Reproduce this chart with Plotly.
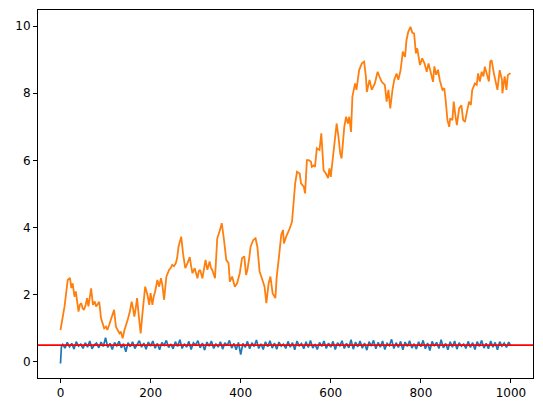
import plotly.graph_objects as go

# Orange series (random-walk-like)
orange_x = [0, 2, 5, 9, 13, 16, 21, 24, 27, 31, 34, 37, 40, 43, 46, 49, 52, 56, 59, 62, 65, 68, 72, 76, 79, 83, 86, 90, 94, 97,
            101, 104, 108, 112, 116, 119, 123, 127, 131, 134, 138, 142, 146, 149, 154, 158, 161, 164, 167, 170, 174, 178, 182, 185, 188, 193, 197,
            200, 204, 207, 210, 215, 219, 223, 226, 230, 235, 241, 245, 248, 252, 256, 259, 262, 268, 272, 277, 282, 287, 290, 293, 298,
            301, 304, 307, 310, 315, 319, 322, 326, 331, 334, 337, 343, 348, 353, 358, 363, 368, 373, 376, 381, 384, 387, 392, 398,
            403, 408, 412, 415, 419, 422, 428, 433, 437, 442, 447, 453, 457, 462, 466, 471, 477, 480, 485, 490, 494, 496,
            501, 505, 509, 514, 518, 521, 525, 531, 534, 540, 543, 547, 551, 556, 558, 562, 565, 569, 575, 579, 584, 589, 594, 597,
            600, 606, 610, 613, 617, 621, 624, 630, 634, 638, 641, 645, 648, 654, 657, 663, 669, 674, 678, 680, 686, 691, 698,
            704, 708, 713, 720, 724, 728, 732, 737, 741, 746, 750, 755, 760, 765, 768, 772, 777, 781, 785, 789, 792, 798,
            803, 808, 813, 817, 823, 827, 830, 834, 838, 842, 848, 852, 855, 859, 863, 865, 870, 873, 877, 880, 885, 890, 894, 898,
            903, 907, 911, 914, 920, 924, 927, 931, 935, 939, 942, 946, 951, 954, 957, 962, 966, 970, 975, 980, 981, 986, 990, 993, 999]
orange_y = [0.95, 1.1, 1.31, 1.65, 2.1, 2.44, 2.5, 2.2, 2.34, 1.94, 2.1, 1.8, 1.5, 1.7, 1.75, 1.6, 1.55, 1.7, 1.9, 1.65, 1.9, 2.19, 1.7, 1.8, 1.65, 1.75, 1.79, 1.3, 1.15, 1.0,
            1.05, 0.95, 1.1, 1.25, 1.4, 1.55, 1.05, 0.95, 0.85, 0.9, 0.7, 0.95, 1.1, 1.25, 1.5, 1.79, 1.6, 1.35, 1.6, 1.9, 1.35, 0.85, 1.45, 1.9, 2.24, 2.0, 1.7,
            2.05, 1.7, 1.95, 2.09, 2.44, 2.24, 2.49, 2.3, 1.85, 2.54, 2.74, 2.8, 2.89, 2.85, 2.94, 3.1, 3.43, 3.73, 3.23, 2.79, 2.94, 3.12, 2.85, 2.64, 2.79,
            2.6, 2.49, 2.7, 2.74, 2.49, 2.8, 3.04, 2.74, 2.99, 2.8, 2.74, 2.49, 3.68, 3.88, 4.13, 3.63, 3.04, 2.94, 2.39, 2.54, 2.35, 2.24, 2.34, 2.64,
            3.09, 3.14, 2.59, 2.74, 3.1, 3.43, 3.63, 3.68, 3.43, 2.69, 2.49, 2.24, 1.75, 2.34, 2.54, 2.04, 1.9, 2.54, 3.13, 3.78, 3.93, 3.53,
            3.73, 3.85, 3.98, 4.18, 4.82, 5.32, 5.66, 5.61, 5.32, 5.22, 5.02, 6.01, 6.01, 5.96, 5.81, 5.85, 5.81, 6.36, 6.31, 6.81, 5.71, 5.61, 5.47, 5.76,
            5.51, 6.21, 6.7, 7.1, 6.71, 6.21, 6.06, 7.0, 7.3, 7.1, 7.3, 6.85, 7.9, 8.29, 8.1, 8.69, 8.89, 8.94, 8.49, 8.04, 8.4, 8.1, 8.3,
            8.64, 8.5, 8.34, 8.25, 7.75, 8.1, 7.55, 8.1, 8.4, 8.59, 8.4, 8.69, 9.24, 9.08, 9.58, 9.83, 9.98, 9.8, 9.78, 9.19, 9.34, 8.84,
            9.04, 8.89, 8.64, 8.89, 8.6, 8.34, 8.8, 8.55, 8.7, 8.39, 8.1, 8.15, 7.8, 7.2, 7.0, 7.25, 7.2, 7.75, 7.3, 7.05, 7.55, 7.64, 7.2, 7.15,
            7.5, 7.75, 7.65, 8.1, 8.29, 8.25, 8.59, 8.35, 8.64, 8.5, 8.79, 8.55, 8.35, 8.94, 8.99, 8.6, 8.29, 8.1, 8.69, 8.4, 8.0, 8.5, 8.1, 8.54, 8.6]

# Blue series (noise around 0.5)
blue_x = [0, 2] + list(range(5, 1000, 5)) + [999]
blue_y = ([-0.05, 0.45] +
          [0.52, 0.41, 0.58, 0.45, 0.55, 0.38, 0.60, 0.47, 0.53, 0.40, 0.57, 0.44, 0.62, 0.39, 0.51, 0.56, 0.42, 0.59, 0.46] +
          [0.72] +
          [0.43, 0.55, 0.37, 0.58, 0.48, 0.61, 0.42, 0.54, 0.30, 0.57, 0.45, 0.60, 0.40, 0.52, 0.63, 0.44, 0.56, 0.38, 0.59] +
          [0.47, 0.62, 0.41, 0.55, 0.36, 0.58, 0.49, 0.64, 0.43, 0.53, 0.39, 0.60, 0.46, 0.66, 0.40, 0.54, 0.44, 0.61, 0.37, 0.57] +
          [0.50, 0.63, 0.42, 0.56, 0.35, 0.59, 0.47, 0.62, 0.40, 0.53, 0.44, 0.60, 0.38, 0.57, 0.48, 0.64, 0.41, 0.55, 0.36, 0.58] +
          [0.22] +
          [0.55, 0.43, 0.61, 0.39, 0.57, 0.46, 0.65, 0.40, 0.54, 0.37, 0.60, 0.45, 0.63, 0.41, 0.56, 0.38, 0.59, 0.47, 0.53] +
          [0.40, 0.61, 0.44, 0.57, 0.36, 0.62, 0.48, 0.55, 0.39, 0.60, 0.43, 0.64, 0.41, 0.53, 0.37, 0.58, 0.46, 0.62, 0.40, 0.56] +
          [0.44, 0.61, 0.37, 0.57, 0.48, 0.63, 0.40, 0.55, 0.42, 0.66, 0.38, 0.59, 0.45, 0.62, 0.41, 0.56, 0.35, 0.60, 0.47, 0.64] +
          [0.39, 0.58, 0.44, 0.62, 0.37, 0.55, 0.48, 0.67, 0.40, 0.57, 0.43, 0.61, 0.36, 0.59, 0.46, 0.63, 0.41, 0.54, 0.38, 0.60] +
          [0.45, 0.64, 0.39, 0.56, 0.34, 0.61, 0.47, 0.58, 0.40, 0.66, 0.42, 0.55, 0.36, 0.60, 0.44, 0.62, 0.38, 0.57, 0.47, 0.53] +
          [0.40, 0.61, 0.43, 0.57, 0.37, 0.60, 0.46, 0.64, 0.41, 0.55, 0.39, 0.62, 0.44, 0.58, 0.36, 0.60, 0.47, 0.56, 0.43, 0.59] +
          [0.50])

hline_y = 0.5
x_ticks = [0, 200, 400, 600, 800, 1000]
y_ticks = [0, 2, 4, 6, 8, 10]

fig = go.Figure()
fig.add_trace(go.Scatter(x=blue_x, y=blue_y, mode="lines",
                         line=dict(color="#1f77b4", width=1.7), showlegend=False))
fig.add_trace(go.Scatter(x=orange_x, y=orange_y, mode="lines",
                         line=dict(color="#ff7f0e", width=1.8), showlegend=False))
fig.add_hline(y=hline_y, line=dict(color="#ff0000", width=1.7))

axis_common = dict(showgrid=False, zeroline=False, showline=True, linecolor="black",
                   linewidth=1, mirror=True, ticks="outside", ticklen=4, tickwidth=1,
                   tickcolor="black", automargin=False,
                   tickfont=dict(family="DejaVu Sans", size=12, color="black"))
fig.update_xaxes(range=[-49.95, 1048.95], tickvals=x_ticks, **axis_common)
fig.update_yaxes(range=[-0.48, 10.48], tickvals=y_ticks, **axis_common)

# page body has an 8px default margin; compensate so the plot area lands at 38..533 x 10..378
fig.update_layout(width=535, height=405, plot_bgcolor="white", paper_bgcolor="white",
                  margin=dict(l=30, r=10, t=2, b=35), showlegend=False)

fig.write_html("out.html")
